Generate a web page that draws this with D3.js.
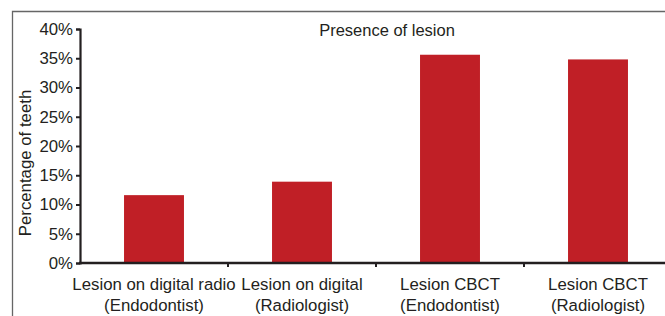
<!DOCTYPE html>
<html>
<head>
<meta charset="utf-8">
<script src="https://cdn.jsdelivr.net/npm/d3@7"></script>
<style>
  body { margin: 0; background: #fff; }
  svg text { font-family: "Liberation Sans", Arial, sans-serif; fill: #231f20; }
</style>
</head>
<body>
<div id="chart"></div>
<script>
// chart data
var categories = [
  ['Lesion on digital radio', '(Endodontist)'],
  ['Lesion on digital', '(Radiologist)'],
  ['Lesion CBCT', '(Endodontist)'],
  ['Lesion CBCT', '(Radiologist)']
];
var values = [0.116, 0.139, 0.356, 0.348];
var yTicks = [0, 0.05, 0.10, 0.15, 0.20, 0.25, 0.30, 0.35, 0.40];
var chartTitle = 'Presence of lesion';
var yTitle = 'Percentage of teeth';

var width = 665, height = 316;
var margin = { left: 80, top: 29, bottom: 53 };
var fontSize = 16.8;

var svg = d3.select('#chart')
  .append('svg')
  .attr('width', width)
  .attr('height', height);

// outer frame (only top and left show in the crop)
svg.append('path')
  .attr('d', 'M12.5,' + height + 'V11.5H' + width)
  .attr('fill', 'none')
  .attr('stroke', '#666')
  .attr('stroke-width', 1.3);

var x = d3.scaleBand()
  .domain(d3.range(categories.length))
  .range([margin.left, margin.left + 148 * categories.length])
  .paddingInner(0.595)
  .paddingOuter(0.2975);

var y = d3.scaleLinear()
  .domain([0, 0.40])
  .range([height - margin.bottom, margin.top]);

// bars
svg.selectAll('rect.bar')
  .data(values)
  .enter()
  .append('rect')
  .attr('class', 'bar')
  .attr('x', function (d, i) { return x(i); })
  .attr('width', x.bandwidth())
  .attr('y', function (d) { return y(d); })
  .attr('height', function (d) { return y(0) - y(d); })
  .attr('fill', '#c01f26');

// y axis
var yAxis = svg.append('g')
  .attr('transform', 'translate(' + margin.left + ',0)')
  .call(d3.axisLeft(y).tickValues(yTicks).tickFormat(d3.format('.0%')).tickSize(4).tickPadding(3));
yAxis.select('.domain').attr('stroke', '#231f20').attr('stroke-width', 2.2);
yAxis.selectAll('.tick line').attr('stroke', '#231f20').attr('stroke-width', 2);
yAxis.selectAll('.tick text').attr('font-size', fontSize).attr('fill', '#231f20');

// x axis line + boundary ticks
var step = x.step();
var x0 = margin.left;
svg.append('line')
  .attr('x1', x0 - 1).attr('x2', width)
  .attr('y1', y(0)).attr('y2', y(0))
  .attr('stroke', '#231f20').attr('stroke-width', 2.4);
svg.selectAll('line.xtick')
  .data(d3.range(1, categories.length))
  .enter()
  .append('line')
  .attr('class', 'xtick')
  .attr('x1', function (d) { return x0 + d * step; })
  .attr('x2', function (d) { return x0 + d * step; })
  .attr('y1', y(0)).attr('y2', y(0) + 4)
  .attr('stroke', '#231f20').attr('stroke-width', 2);

// category labels, two lines each
var labels = svg.selectAll('text.cat')
  .data(categories)
  .enter()
  .append('text')
  .attr('class', 'cat')
  .attr('text-anchor', 'middle')
  .attr('font-size', fontSize);
labels.selectAll('tspan')
  .data(function (d, i) { return d.map(function (s) { return { s: s, i: i }; }); })
  .enter()
  .append('tspan')
  .attr('x', function (d) { return x(d.i) + x.bandwidth() / 2; })
  .attr('y', function (d, j) { return y(0) + 27 + j * 21; })
  .text(function (d) { return d.s; });

// titles
svg.append('text')
  .attr('x', 387).attr('y', 36)
  .attr('text-anchor', 'middle')
  .attr('font-size', 16.5)
  .text(chartTitle);

svg.append('text')
  .attr('transform', 'translate(31,163) rotate(-90)')
  .attr('text-anchor', 'middle')
  .attr('font-size', fontSize)
  .text(yTitle);
</script>
</body>
</html>
